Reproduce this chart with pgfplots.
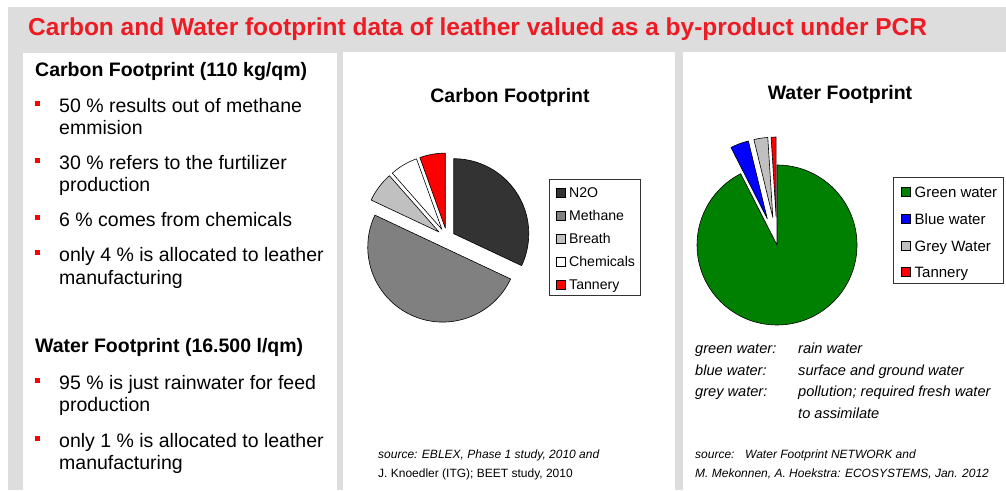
\documentclass[border=0pt]{standalone}
\usepackage{pgfplots}
\pgfplotsset{compat=1.18}
\usepackage{pgfplotstable}
\usepackage{fontspec}
\setmainfont{Liberation Sans}
\definecolor{slidegray}{HTML}{DDDDDD}
\definecolor{titlered}{HTML}{ED1C24}
\definecolor{bulletred}{HTML}{FF0000}
\definecolor{cN2O}{HTML}{333333}
\definecolor{cMeth}{HTML}{808080}
\definecolor{cBreath}{HTML}{C0C0C0}
\definecolor{cChem}{HTML}{FFFFFF}
\definecolor{cTan}{HTML}{FF0000}
\definecolor{cGreen}{HTML}{008000}
\definecolor{cBlue}{HTML}{0000FF}
\definecolor{cGrey}{HTML}{C0C0C0}

% carbon footprint shares (clockwise from 12 o'clock)
\pgfplotstableread{
label value explode color
N2O 32 8 cN2O
Methane 50 10 cMeth
Breath 6.5 10 cBreath
Chemicals 6 10 cChem
Tannery 5.5 10 cTan
}\carbontab

% water footprint shares
\pgfplotstableread{
label value explode color
Green 92.5 0 cGreen
Blue 3.7 28 cBlue
Grey 2.8 28 cGrey
Tannery 1.0 28 cTan
}\watertab

\newcommand\drawpie[4]{%
  \pgfplotstablegetrowsof{#1}%
  \pgfmathtruncatemacro\lastrow{\pgfplotsretval-1}%
  \gdef\cum{0}%
  \foreach \i in {0,...,\lastrow}{%
    \pgfplotstablegetelem{\i}{value}\of{#1}\let\sliceval\pgfplotsretval
    \pgfplotstablegetelem{\i}{explode}\of{#1}\let\sliceexp\pgfplotsretval
    \pgfplotstablegetelem{\i}{color}\of{#1}\let\slicecol\pgfplotsretval
    \pgfmathsetmacro\angA{90-3.6*\cum}%
    \pgfmathsetmacro\angB{90-3.6*(\cum+\sliceval)}%
    \pgfmathsetmacro\angM{(\angA+\angB)/2}%
    \filldraw[fill=\slicecol, draw=black, line width=0.6pt, line join=round]
      (axis cs:#2,#3) ++(\angM:\sliceexp pt) -- ++(\angA:#4pt)
      arc[start angle=\angA, end angle=\angB, radius=#4pt] -- cycle;
    \pgfmathsetmacro\newcum{\cum+\sliceval}%
    \xdef\cum{\newcum}%
  }%
}

\newcommand\fs[1]{\fontsize{#1}{#1}\selectfont}

\begin{document}
\begin{tikzpicture}[x=1pt,y=1pt]
\useasboundingbox (0,0) rectangle (1006,490);
\clip (0,0) rectangle (1006,490);
\fill[white] (0,0) rectangle (1006,490);
\fill[slidegray] (8,0) rectangle (1006,483);
\fill[white] (23,0) rectangle (337,437);
\fill[white] (343,0) rectangle (675,438);
\fill[white] (683,0) rectangle (1006,438);

% title
\node[anchor=base west, inner sep=0, text=titlered, font=\fs{24.5}\bfseries] at (28,454)
  {Carbon and Water footprint data of leather valued as a by-product under PCR};

% left panel text
\begin{scope}[every node/.style={anchor=base west, inner sep=0}]
\node[font=\fs{19.5}\bfseries] at (35,413) {Carbon Footprint (110 kg/qm)};
\node[font=\fs{19.5}] at (59,377) {50 \% results out of methane};
\node[font=\fs{19.5}] at (59,355) {emmision};
\node[font=\fs{19.5}] at (59,320) {30 \% refers to the furtilizer};
\node[font=\fs{19.5}] at (59,298) {production};
\node[font=\fs{19.5}] at (59,263) {6 \% comes from chemicals};
\node[font=\fs{19.5}] at (59,228) {only 4 \% is allocated to leather};
\node[font=\fs{19.5}] at (59,205) {manufacturing};
\node[font=\fs{19.5}\bfseries] at (35,137) {Water Footprint (16.500 l/qm)};
\node[font=\fs{19.5}] at (59,100) {95 \% is just rainwater for feed};
\node[font=\fs{19.5}] at (59,78) {production};
\node[font=\fs{19.5}] at (59,43) {only 1 \% is allocated to leather};
\node[font=\fs{19.5}] at (59,21) {manufacturing};
\end{scope}
\foreach \yy in {386,329,272,237,109,52}{
  \fill[bulletred] (34.5,\yy-2.5) rectangle (39.5,\yy+2.5);
}

% panel titles
\node[anchor=base, inner sep=0, font=\fs{19.5}\bfseries] at (510,387) {Carbon Footprint};
\node[anchor=base, inner sep=0, font=\fs{19.5}\bfseries] at (840,390) {Water Footprint};

% pies
\begin{axis}[at={(0,0)}, anchor=south west, x=1pt, y=1pt,
  xmin=0, xmax=1006, ymin=0, ymax=490, enlargelimits=false,
  hide axis, clip=false]
\pgfplotsextra{\drawpie{\carbontab}{447}{252}{75}}
\pgfplotsextra{\drawpie{\watertab}{777}{245}{80}}
\end{axis}

% carbon legend
\draw[line width=0.7pt, draw=black!80] (549,311) rectangle (640,195);
\foreach \yy/\cc/\tt in {297/cN2O/N2O, 274/cMeth/Methane, 251/cBreath/Breath, 228/cChem/Chemicals, 205/cTan/Tannery}{
  \filldraw[fill=\cc, draw=black, line width=0.6pt] (556,\yy-4.5) rectangle (565,\yy+4.5);
  \node[anchor=base west, inner sep=0, font=\fs{14.1}] at (569,\yy-5) {\tt};
}
% water legend
\draw[line width=0.7pt, draw=black!80] (893,313) rectangle (1003,207);
\foreach \yy/\cc/\tt in {298/cGreen/Green water, 271/cBlue/Blue water, 244/cGrey/Grey Water, 218/cTan/Tannery}{
  \filldraw[fill=\cc, draw=black, line width=0.6pt] (901,\yy-4.5) rectangle (910,\yy+4.5);
  \node[anchor=base west, inner sep=0, font=\fs{15}] at (914.5,\yy-5.5) {\tt};
}

% water notes
\begin{scope}[every node/.style={anchor=base west, inner sep=0, font=\fs{14.6}\itshape}]
\node at (695,136) {green water:};
\node at (798,136) {rain water};
\node at (695,114) {blue water:};
\node at (798,114) {surface and ground water};
\node at (695,93) {grey water:};
\node at (798,93) {pollution; required fresh water};
\node at (798,72) {to assimilate};
\end{scope}

% sources
\begin{scope}[every node/.style={anchor=base west, inner sep=0, font=\fs{12}}]
\node[font=\fs{12}\itshape] at (378,32) {source: EBLEX, Phase 1 study, 2010 and};
\node at (378,13) {J. Knoedler (ITG); BEET study, 2010};
\node[font=\fs{12}\itshape] at (695,32) {source:};
\node[font=\fs{12}\itshape] at (745,32) {Water Footprint NETWORK and};
\node[font=\fs{12}\itshape] at (695,13) {M. Mekonnen, A. Hoekstra: ECOSYSTEMS, Jan. 2012};
\end{scope}
\end{tikzpicture}
\end{document}
